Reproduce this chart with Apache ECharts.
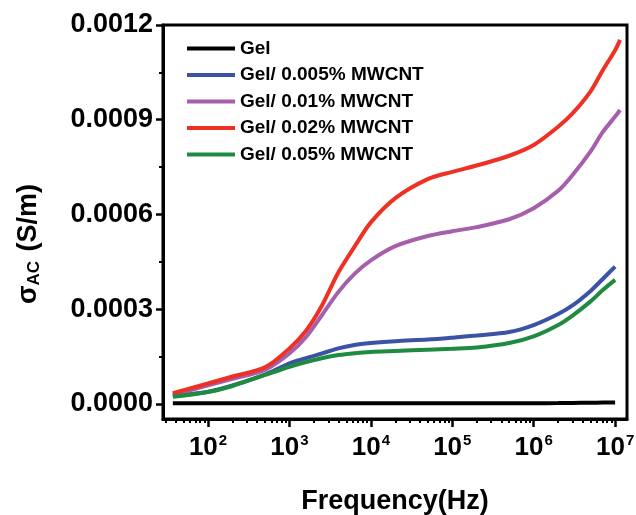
<!DOCTYPE html>
<html><head><meta charset="utf-8">
<script src="https://cdn.jsdelivr.net/npm/echarts@6/dist/echarts.min.js"></script>
<style>html,body{margin:0;padding:0;background:#fff}#c{width:636px;height:515px}</style>
</head><body><div id="c"></div>
<script>
// Frequencies (Hz)
const freqShort = [37,100,200,500,1000,1600,2500,4000,6300,1e4,2e4,5e4,1e5,2e5,5e5,1e6,2e6,3e6,5e6,7e6,1e7];
const freqLong  = [37,100,200,500,1000,1600,2500,4000,6300,1e4,2e4,5e4,1e5,2e5,5e5,1e6,2e6,3e6,5e6,7e6,1e7,1.15e7];
const seriesNames = ['Gel','Gel/ 0.005% MWCNT','Gel/ 0.01% MWCNT','Gel/ 0.02% MWCNT','Gel/ 0.05% MWCNT'];
// sigma_AC (S/m)
const gel    = [2e-6,2e-6,2e-6,2e-6,2e-6,2e-6,2e-6,2e-6,2e-6,2e-6,2e-6,2e-6,2e-6,2e-6,2.2e-6,2.5e-6,3e-6,3.5e-6,4e-6,4.5e-6,5e-6];
const mw0005 = [2.5e-5,3.9e-5,5.9e-5,9.3e-5,1.29e-4,1.45e-4,1.6e-4,1.76e-4,1.87e-4,1.93e-4,1.99e-4,2.04e-4,2.1e-4,2.17e-4,2.28e-4,2.5e-4,2.85e-4,3.12e-4,3.58e-4,3.95e-4,4.35e-4];
const mw001  = [2.85e-5,5.9e-5,8.0e-5,1.08e-4,1.6e-4,2.12e-4,2.81e-4,3.55e-4,4.12e-4,4.55e-4,5.0e-4,5.32e-4,5.47e-4,5.6e-4,5.85e-4,6.2e-4,6.75e-4,7.25e-4,8.0e-4,8.6e-4,9.1e-4,9.31e-4];
const mw002  = [3.4e-5,6.5e-5,8.7e-5,1.16e-4,1.76e-4,2.32e-4,3.11e-4,4.17e-4,4.98e-4,5.75e-4,6.52e-4,7.12e-4,7.35e-4,7.55e-4,7.86e-4,8.2e-4,8.78e-4,9.2e-4,9.9e-4,1.055e-3,1.12e-3,1.153e-3];
const mw005  = [2.3e-5,3.8e-5,5.7e-5,9.2e-5,1.18e-4,1.33e-4,1.45e-4,1.55e-4,1.61e-4,1.65e-4,1.68e-4,1.72e-4,1.75e-4,1.79e-4,1.93e-4,2.14e-4,2.5e-4,2.8e-4,3.25e-4,3.6e-4,3.93e-4];
// Axis ticks
const xMajorTicks = [1e2,1e3,1e4,1e5,1e6,1e7];
const yMajorTicks = [0,0.0003,0.0006,0.0009,0.0012];
const yMinorTicks = [0.00015,0.00045,0.00075,0.00105];
const xMinorTicks = [];
for (let d = 1; d <= 6; d++) for (let k = 2; k <= 9; k++) { const v = k * Math.pow(10, d); if (v >= 30) xMinorTicks.push(v); }

const colors = ['#000000','#3a53a4','#a65fab','#ee3124','#1f8b40'];
const FONT = '"Liberation Sans", Arial, sans-serif';
const pair = (xs, ys) => ys.map((y, i) => [xs[i], y]);
const seriesData = [pair(freqShort, gel), pair(freqShort, mw0005), pair(freqLong, mw001), pair(freqLong, mw002), pair(freqShort, mw005)];

const XMIN = 28, XMAX = 1.4e7, YMIN = -0.0000475, YMAX = 0.0012;

const chart = echarts.init(document.getElementById('c'), null, {renderer: 'canvas'});
chart.setOption({
  animation: false,
  backgroundColor: '#fff',
  grid: {left: 163, right: 9, top: 25, bottom: 96, show: true, borderColor: '#000', borderWidth: 3,
         backgroundColor: 'transparent', containLabel: false, outerBoundsMode: 'none'},
  legend: {
    orient: 'vertical', left: 182, top: 34, itemWidth: 48, itemHeight: 4, itemGap: 7.5,
    icon: 'rect',
    data: seriesNames,
    textStyle: {fontFamily: FONT, fontSize: 19, fontWeight: 'bold', color: '#000'}
  },
  xAxis: [{
    type: 'log', min: XMIN, max: XMAX, logBase: 10,
    axisLine: {show: true, onZero: false, lineStyle: {color: '#000', width: 3}},
    axisTick: {show: true, customValues: xMajorTicks, length: 8, inside: false, lineStyle: {color: '#000', width: 2.5}},
    axisLabel: {
      customValues: xMajorTicks, margin: 14,
      formatter: v => '{b|10}{s|' + Math.round(Math.log10(v)) + '}',
      rich: {
        b: {fontFamily: FONT, fontSize: 26, fontWeight: 'bold', color: '#000'},
        s: {fontFamily: FONT, fontSize: 15, fontWeight: 'bold', color: '#000', padding: [0, 0, 14, 1]}
      }
    },
    splitLine: {show: false}, minorTick: {show: false},
    name: 'Frequency(Hz)', nameLocation: 'middle', nameGap: 69,
    nameTextStyle: {fontFamily: FONT, fontSize: 27, fontWeight: 'bold', color: '#000'}
  }, {
    type: 'log', min: XMIN, max: XMAX, logBase: 10, position: 'bottom',
    axisLine: {show: false, onZero: false},
    axisTick: {show: true, customValues: xMinorTicks, length: 4, lineStyle: {color: '#000', width: 2}},
    axisLabel: {show: false}, splitLine: {show: false}
  }],
  yAxis: [{
    type: 'value', min: YMIN, max: YMAX,
    axisLine: {show: true, onZero: false, lineStyle: {color: '#000', width: 3}},
    axisTick: {show: true, customValues: yMajorTicks, length: 7, lineStyle: {color: '#000', width: 2.5}},
    axisLabel: {
      customValues: yMajorTicks, margin: 10, formatter: v => v.toFixed(4),
      fontFamily: FONT, fontSize: 27, fontWeight: 'bold', color: '#000'
    },
    splitLine: {show: false},
    name: '{a|σ}{b|AC}{a| (S/m)}', nameLocation: 'middle', nameRotate: 90, nameGap: 120,
    nameTextStyle: {
      padding: [0, 44, 0, 0],
      rich: {
        a: {fontFamily: FONT, fontSize: 27, fontWeight: 'bold', color: '#000'},
        b: {fontFamily: FONT, fontSize: 17, fontWeight: 'bold', color: '#000', padding: [12, 2, 0, 0]}
      }
    }
  }, {
    type: 'value', min: YMIN, max: YMAX, position: 'left',
    axisLine: {show: false, onZero: false},
    axisTick: {show: true, customValues: yMinorTicks, length: 4, lineStyle: {color: '#000', width: 2}},
    axisLabel: {show: false}, splitLine: {show: false}
  }],
  series: seriesNames.map((name, i) => ({
    name, type: 'line', data: seriesData[i], xAxisIndex: 0, yAxisIndex: 0,
    showSymbol: false, symbol: 'none', smooth: 0.3,
    lineStyle: {color: colors[i], width: 4}, itemStyle: {color: colors[i]}
  }))
});
</script></body></html>
